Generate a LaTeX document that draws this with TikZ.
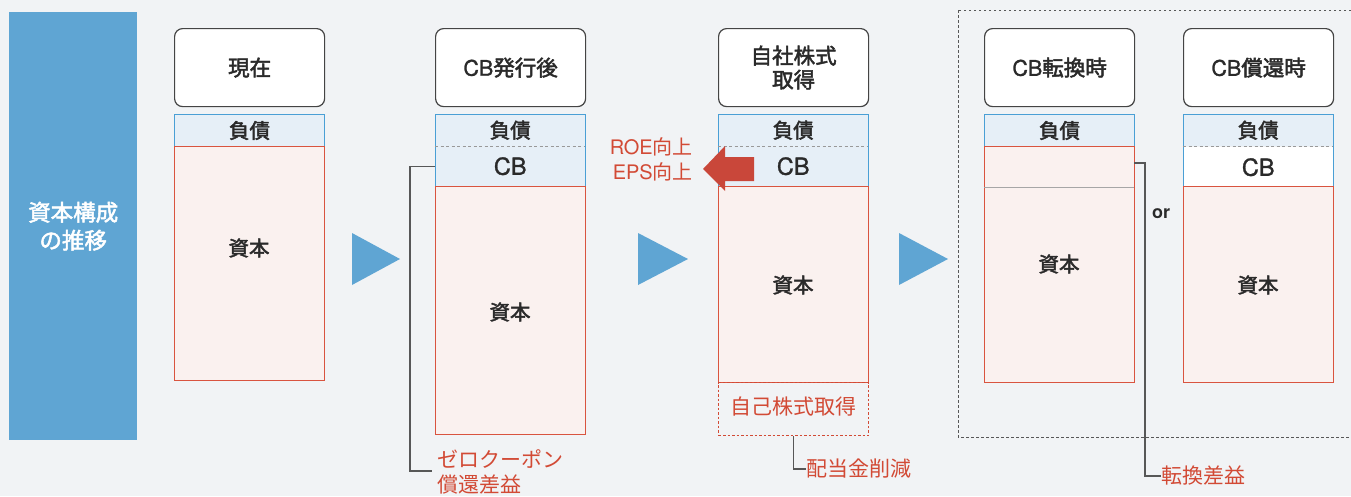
\documentclass[tikz,border=0pt]{standalone}
\usepackage{fontspec}
\setmainfont{Noto Sans CJK JP}
\newfontfamily\medfont[FakeBold=2.2]{Noto Sans CJK JP}
\newfontfamily\lat{TeX Gyre Heros}
\newfontfamily\latmed[FakeBold=1.2]{TeX Gyre Heros}
\usetikzlibrary{calc}
\definecolor{bgc}{HTML}{F1F3F5}
\definecolor{sidebl}{HTML}{5FA5D3}
\definecolor{bluebd}{HTML}{4A9FD5}
\definecolor{bluefill}{HTML}{E6EFF7}
\definecolor{redbd}{HTML}{D9543F}
\definecolor{pinkfill}{HTML}{FAF1EF}
\definecolor{redtxt}{HTML}{D24A35}
\definecolor{arrred}{HTML}{C9473A}
\definecolor{hdrgray}{HTML}{444444}
\definecolor{txt}{HTML}{2A2A2A}
\tikzset{
 hdr/.style={draw=hdrgray, line width=1.2pt, fill=white, rounded corners=8pt, minimum width=150pt, minimum height=78pt, anchor=north west, inner sep=0pt, align=center, text=txt, font=\fontsize{21.5}{24}\selectfont\medfont},
 liab/.style={draw=bluebd, line width=1pt, fill=bluefill, minimum width=150pt, minimum height=32pt, anchor=north west, inner sep=0pt, text=txt, font=\fontsize{20.5}{24}\selectfont\medfont},
 liabnb/.style={fill=bluefill, minimum width=150pt, minimum height=32pt, anchor=north west, inner sep=0pt, text=txt, font=\fontsize{20.5}{24}\selectfont\medfont},
 cbbox/.style={fill=bluefill, minimum width=150pt, minimum height=40pt, anchor=north west, inner sep=0pt, text=txt, font=\fontsize{23.5}{24}\selectfont\latmed},
 capbox/.style={draw=redbd, line width=1pt, fill=pinkfill, minimum width=150pt, anchor=north west, inner sep=0pt},
 blueframe/.style={draw=bluebd, line width=1pt},
 sepdash/.style={draw=gray!80, line width=1pt, dash pattern=on 3pt off 2.5pt},
 brk/.style={draw=hdrgray!90, line width=1.2pt},
 redlbl/.style={text=redtxt, inner sep=0pt, font=\fontsize{21}{25}\selectfont},
 bluetri/.style={fill=sidebl},
 captxt/.style={text=txt, font=\fontsize{20.5}{24}\selectfont\medfont},
}
\begin{document}
\begin{tikzpicture}[x=1pt,y=-1pt]
\useasboundingbox (0,0) rectangle (1351,496);
\fill[bgc] (0,0) rectangle (1351,496);
% side bar
\node[fill=sidebl, minimum width=128pt, minimum height=428pt, anchor=north west, inner sep=0pt, text=white, align=center, font=\fontsize{22.5}{28}\selectfont\medfont] (side) at (9,12) {資本構成\\の推移};
% dotted frame
\draw[hdrgray!90, line width=1pt, dash pattern=on 2.5pt off 2.5pt] (958,10) rectangle (1360,437);
% column 1
\node[hdr] (h1) at (174,28) {現在};
\node[liab] (l1) at (174,114) {負債};
\node[capbox, minimum height=234pt] (c1) at (174,146) {};
\node[captxt] (k1) at (249,248) {資本};
% column 2
\node[hdr] (h2) at (435,28) {{\latmed CB}発行後};
\node[liabnb] (l2) at (435,114) {負債};
\node[cbbox] (cb2) at (435,146) {CB};
\draw[blueframe] (l2.north west) rectangle (cb2.south east);
\draw[sepdash] (l2.south west) -- (l2.south east);
\node[capbox, minimum height=248pt] (c2) at (435,186) {};
\node[captxt] (k2) at (510,312) {資本};
\node[redlbl, anchor=north west, align=left] (zc) at (437,449) {ゼロクーポン\\償還差益};
\coordinate (zcend) at (432,471);
\draw[brk] (cb2.west) -- ++(-25,0) |- (zcend);
% arrows
\fill[bluetri] (352,233) -- (400,259) -- (352,285) -- cycle;
\fill[bluetri] (638,233) -- (688,259) -- (638,285) -- cycle;
\fill[bluetri] (899,233) -- (948,259) -- (899,285) -- cycle;
% column 3
\node[hdr] (h3) at (718,28) {自社株式\\取得};
\node[liabnb] (l3) at (718,114) {負債};
\node[cbbox] (cb3) at (718,146) {CB};
\draw[blueframe] (l3.north west) rectangle (cb3.south east);
\draw[sepdash] (l3.south west) -- (l3.south east);
\node[capbox, minimum height=196pt] (c3) at (718,186) {};
\node[captxt] (k3) at (793,285) {資本};
\node[draw=redtxt, line width=1pt, dash pattern=on 2.5pt off 2pt, minimum width=150pt, minimum height=53pt, anchor=north west, inner sep=0pt] (sb3) at (718,382) {};
\node[redlbl] (sbt) at (793,407) {自己株式取得};
\node[redlbl, anchor=west] (hd3) at (806,469) {配当金削減};
\draw[brk] (sb3.south) |- (hd3.west);
% red arrow
\fill[arrred] (754,157) -- (725,157) -- (725,146) -- (703,169) -- (725,191) -- (725,181) -- (754,181) -- cycle;
\node[redlbl, anchor=east, align=right, font=\fontsize{20}{25}\selectfont] (roe) at (693,159) {{\lat ROE}向上\\{\lat EPS}向上};
% column 4
\node[hdr] (h4) at (984,28) {{\latmed CB}転換時};
\node[liab] (l4) at (984,114) {負債};
\node[capbox, minimum height=236pt] (c4) at (984,146) {};
\node[minimum width=150pt, minimum height=41pt, anchor=north west, inner sep=0pt] (cv4) at (984,146) {};
\draw[gray!70, line width=1.2pt] (cv4.south west) -- (cv4.south east);
\node[captxt] (k4) at (1059,264) {資本};
\coordinate (cvr) at (1134,163);
\node[redlbl, anchor=west] (tk) at (1161,476) {転換差益};
\draw[brk] (cvr) -- ++(11,0) |- (tk.west);
\node[text=txt, font=\fontsize{18}{20}\selectfont\lat\bfseries] (or) at (1161,214) {or};
% column 5
\node[hdr] (h5) at (1183,28) {{\latmed CB}償還時};
\node[liabnb] (l5) at (1183,114) {負債};
\node[cbbox, fill=white] (cb5) at (1183,147) {CB};
\draw[blueframe] (l5.north west) rectangle (cb5.south east);
\draw[sepdash] (l5.south west) -- (l5.south east);
\node[capbox, minimum height=196pt] (c5) at (1183,186) {};
\node[captxt] (k5) at (1258,285) {資本};
\end{tikzpicture}
\end{document}
